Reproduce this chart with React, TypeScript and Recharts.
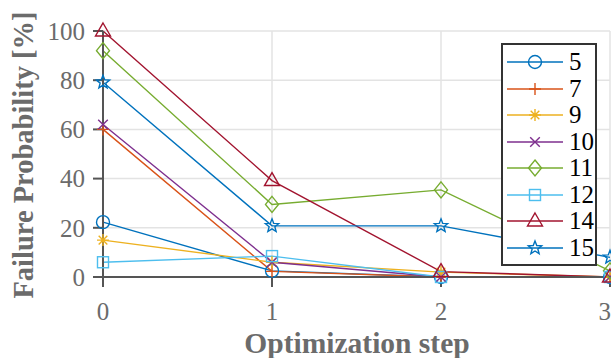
import React from 'react';
import { LineChart, Line, XAxis, YAxis, CartesianGrid, Label } from 'recharts';

// optimization steps on the x axis
const steps = [0, 1, 2, 3];

// failure probability [%] per series
const s5 = [22.3, 2.5, 0, 0];
const s7 = [60, 2.3, 0, 0];
const s9 = [15, 6, 2, 0];
const s10 = [62, 6, 0, 0];
const s11 = [92, 29.5, 35.4, 2.5];
const s12 = [6, 8.5, 0, 0];
const s14 = [100, 39.2, 2.2, 0];
const s15 = [79.2, 20.8, 20.8, 8];

const seriesNames = ['5', '7', '9', '10', '11', '12', '14', '15'];
const seriesValues = [s5, s7, s9, s10, s11, s12, s14, s15];
const seriesColors = ['#0072BD', '#D95319', '#EDB120', '#7E2F8E', '#77AC30', '#4DBEEE', '#A2142F', '#0072BD'];
const seriesShapes = ['circle', 'plus', 'asterisk', 'cross', 'diamond', 'square', 'triangle', 'star'];

const yTicks = [0, 20, 40, 60, 80, 100];

const data = steps.map((step, i) => {
  const row: Record<string, number> = { step };
  seriesNames.forEach((name, k) => {
    row['s' + name] = seriesValues[k][i];
  });
  return row;
});

const FONT = 'Liberation Serif, serif';
const GRAY = '#6b6b6b';

function Marker({ cx, cy, shape, color }: { cx: number; cy: number; shape: string; color: string }) {
  const r = 6;
  const common = { fill: 'none', stroke: color, strokeWidth: 1.4 };
  switch (shape) {
    case 'circle':
      return <circle cx={cx} cy={cy} r={6.5} {...common} />;
    case 'plus':
      return <path d={`M${cx - r},${cy}H${cx + r}M${cx},${cy - r}V${cy + r}`} {...common} />;
    case 'asterisk': {
      const d = r * 0.72;
      return (
        <path
          d={`M${cx - r},${cy}H${cx + r}M${cx},${cy - r}V${cy + r}M${cx - d},${cy - d}L${cx + d},${cy + d}M${cx - d},${cy + d}L${cx + d},${cy - d}`}
          {...common}
        />
      );
    }
    case 'cross': {
      const d = r * 0.8;
      return <path d={`M${cx - d},${cy - d}L${cx + d},${cy + d}M${cx - d},${cy + d}L${cx + d},${cy - d}`} {...common} />;
    }
    case 'diamond':
      return <path d={`M${cx},${cy - 8}L${cx + 6.5},${cy}L${cx},${cy + 8}L${cx - 6.5},${cy}Z`} {...common} />;
    case 'square':
      return <rect x={cx - 5.5} y={cy - 5.5} width={11} height={11} {...common} />;
    case 'triangle':
      return <path d={`M${cx},${cy - 8}L${cx + 7.5},${cy + 5}L${cx - 7.5},${cy + 5}Z`} {...common} />;
    case 'star': {
      const pts: string[] = [];
      for (let i = 0; i < 10; i++) {
        const rad = i % 2 === 0 ? 7 : 3;
        const a = -Math.PI / 2 + (i * Math.PI) / 5;
        pts.push(`${cx + rad * Math.cos(a)},${cy + rad * Math.sin(a)}`);
      }
      return <polygon points={pts.join(' ')} {...common} />;
    }
    default:
      return null;
  }
}

function LegendBox() {
  return (
    <div
      style={{
        position: 'absolute',
        left: 501,
        top: 43,
        border: '2px solid #333',
        background: '#fff',
        width: 92,
        padding: '4px 0 3px',
        boxSizing: 'content-box',
      }}
    >
      {seriesNames.map((name, k) => (
        <div key={name} style={{ display: 'flex', alignItems: 'center', height: 26.5 }}>
          <svg width={62} height={26} style={{ display: 'block' }}>
            <line x1={4} x2={60} y1={13} y2={13} stroke={seriesColors[k]} strokeWidth={1.4} />
            <Marker cx={32} cy={13} shape={seriesShapes[k]} color={seriesColors[k]} />
          </svg>
          <span style={{ fontFamily: FONT, fontSize: 25, color: '#000', marginLeft: 4, lineHeight: '26px' }}>
            {name}
          </span>
        </div>
      ))}
    </div>
  );
}

export default function App() {
  return (
    <div style={{ position: 'absolute', left: 0, top: 0, width: 611, height: 358, background: '#fff' }}>
      <LineChart width={611} height={358} data={data} margin={{ top: 31, right: 1, left: 0, bottom: 0 }}>
        <CartesianGrid stroke="#e3e3e3" strokeWidth={1.5} />
        <XAxis
          dataKey="step"
          type="number"
          domain={[0, 3]}
          ticks={steps}
          height={81}
          tickSize={10}
          tickMargin={15}
          stroke="#555"
          strokeWidth={2}
          tick={{ fill: GRAY, fontSize: 25, fontFamily: FONT }}
        >
          <Label
            content={({ viewBox }: any) => (
              <text
                x={357}
                y={viewBox.y + 76}
                textAnchor="middle"
                fill={GRAY}
                fontFamily={FONT}
                fontWeight="bold"
                fontSize={29.5}
              >
                Optimization step
              </text>
            )}
          />
        </XAxis>
        <YAxis
          type="number"
          domain={[0, 100]}
          ticks={yTicks}
          width={103}
          tickSize={10}
          tickMargin={8}
          stroke="#555"
          strokeWidth={2}
          tick={{ fill: GRAY, fontSize: 25, fontFamily: FONT }}
        >
          <Label
            content={() => (
              <text
                x={33}
                y={155}
                transform="rotate(-90, 33, 155)"
                textAnchor="middle"
                fill={GRAY}
                fontFamily={FONT}
                fontWeight="bold"
                fontSize={28.5}
              >
                Failure Probability [%]
              </text>
            )}
          />
        </YAxis>
        {seriesNames.map((name, k) => (
          <Line
            key={name}
            dataKey={'s' + name}
            name={name}
            type="linear"
            stroke={seriesColors[k]}
            strokeWidth={1.4}
            isAnimationActive={false}
            dot={(props: any) => (
              <Marker
                key={`${name}-${props.index}`}
                cx={props.cx}
                cy={props.cy}
                shape={seriesShapes[k]}
                color={seriesColors[k]}
              />
            )}
          />
        ))}
      </LineChart>
      <LegendBox />
    </div>
  );
}
